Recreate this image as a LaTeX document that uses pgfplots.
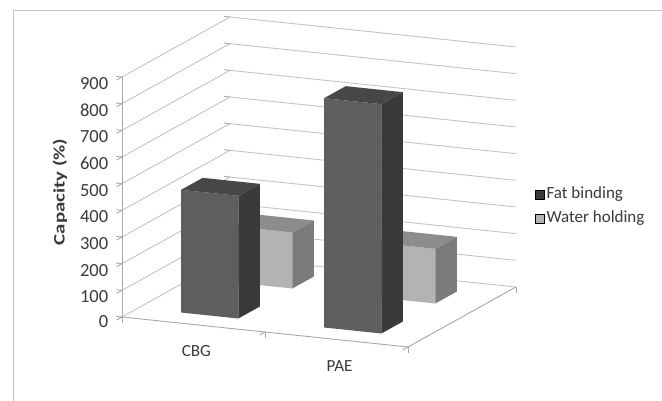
\documentclass[border=0pt]{standalone}
\usepackage{pgfplots}
\pgfplotsset{compat=1.18}
\usepackage{fontspec}
\setmainfont{Carlito}
\definecolor{gridc}{HTML}{C4C4C4}
\definecolor{axc}{HTML}{A8A8A8}
\definecolor{txt}{HTML}{3A3A3A}
\definecolor{fatF}{HTML}{5E5E5E}
\definecolor{fatT}{HTML}{474747}
\definecolor{fatS}{HTML}{3A3A3A}
\definecolor{watF}{HTML}{B3B3B3}
\definecolor{watT}{HTML}{8C8C8C}
\definecolor{watS}{HTML}{7B7B7B}
\begin{document}
\begin{tikzpicture}[x=1pt,y=1pt]
\useasboundingbox (0,0) rectangle (662,400);
\fill[white] (0,0) rectangle (662,400);
\draw[color=gridc, line width=1.6pt] (13.5,-20) rectangle (700,389.3);
\node[rotate=90, font=\bfseries\fontsize{16}{19}\selectfont, text=txt] at (60,208) {\scalebox{1.3}[1.0]{Capacity (\%)}};
\begin{axis}[
  anchor=origin, at={(122pt,83pt)},
  x={(143pt,-15pt)}, y={(54pt,30pt)}, z={(0pt,0.26667pt)},
  xmin=0, xmax=2, ymin=0, ymax=2, zmin=0, zmax=900,
  axis line style={draw=none},
  ytick=\empty,
  xtick={0,1,2}, xticklabels={},
  extra x ticks={0.5,1.5}, extra x tick labels={CBG,PAE},
  extra x tick style={major tick length=0pt, tick label style={xshift=9pt, yshift=-16pt}},
  ztick={0,100,...,900},
  zticklabel style={xshift=-5pt, font=\fontsize{18.5}{21}\selectfont},
  zmajorgrids,
  grid style={gridc, line width=0.9pt},
  tick style={axc, line width=0.9pt},
  major tick length=6pt,
  tick align=outside,
  tick pos=left,
  tick label style={font=\fontsize{17}{20}\selectfont, text=txt},
  /pgf/number format/assume math mode=true,
  clip=false,
]
% floor front and right edges, front vertical axis
\addplot3[axc, line width=0.9pt, mark=none] coordinates {(0,0,0) (2,0,0) (2,2,0)};
\addplot3[axc, line width=0.9pt, mark=none] coordinates {(0,0,0) (0,0,900)};
% Water holding (back row)
% CBG 210
\addplot3[fill=watF, draw=none] coordinates {(0.3,1.3,0) (0.7,1.3,0) (0.7,1.3,210) (0.3,1.3,210)};
\addplot3[fill=watS, draw=none] coordinates {(0.7,1.3,0) (0.7,1.7,0) (0.7,1.7,210) (0.7,1.3,210)};
\addplot3[fill=watT, draw=none] coordinates {(0.3,1.3,210) (0.7,1.3,210) (0.7,1.7,210) (0.3,1.7,210)};
% PAE 205
\addplot3[fill=watF, draw=none] coordinates {(1.3,1.3,0) (1.7,1.3,0) (1.7,1.3,205) (1.3,1.3,205)};
\addplot3[fill=watS, draw=none] coordinates {(1.7,1.3,0) (1.7,1.7,0) (1.7,1.7,205) (1.7,1.3,205)};
\addplot3[fill=watT, draw=none] coordinates {(1.3,1.3,205) (1.7,1.3,205) (1.7,1.7,205) (1.3,1.7,205)};
% Fat binding (front row)
% CBG 460
\addplot3[fill=fatF, draw=none] coordinates {(0.3,0.3,0) (0.7,0.3,0) (0.7,0.3,460) (0.3,0.3,460)};
\addplot3[fill=fatS, draw=none] coordinates {(0.7,0.3,0) (0.7,0.7,0) (0.7,0.7,460) (0.7,0.3,460)};
\addplot3[fill=fatT, draw=none] coordinates {(0.3,0.3,460) (0.7,0.3,460) (0.7,0.7,460) (0.3,0.7,460)};
% PAE 860
\addplot3[fill=fatF, draw=none] coordinates {(1.3,0.3,0) (1.7,0.3,0) (1.7,0.3,860) (1.3,0.3,860)};
\addplot3[fill=fatS, draw=none] coordinates {(1.7,0.3,0) (1.7,0.7,0) (1.7,0.7,860) (1.7,0.3,860)};
\addplot3[fill=fatT, draw=none] coordinates {(1.3,0.3,860) (1.7,0.3,860) (1.7,0.7,860) (1.3,0.7,860)};
\end{axis}
\begin{axis}[
  at={(535pt,216pt)}, anchor=south west,
  hide axis, scale only axis, width=1pt, height=1pt,
  xmin=0, xmax=1, ymin=0, ymax=1,
  legend style={at={(0,0)}, anchor=north west, draw=none, fill=none, inner sep=0pt,
    font=\fontsize{17}{20}\selectfont, text=txt,
    nodes={inner sep=2pt, text height=12pt, text depth=4pt},
    row sep=4pt},
  legend cell align=left,
  legend image code/.code={\fill[#1] (0pt,-4.5pt) rectangle (9pt,4.5pt);},
]
\addlegendimage{fill=fatS}
\addlegendentry{Fat binding}
\addlegendimage{fill=watF}
\addlegendentry{Water holding}
\end{axis}
\end{tikzpicture}
\end{document}
